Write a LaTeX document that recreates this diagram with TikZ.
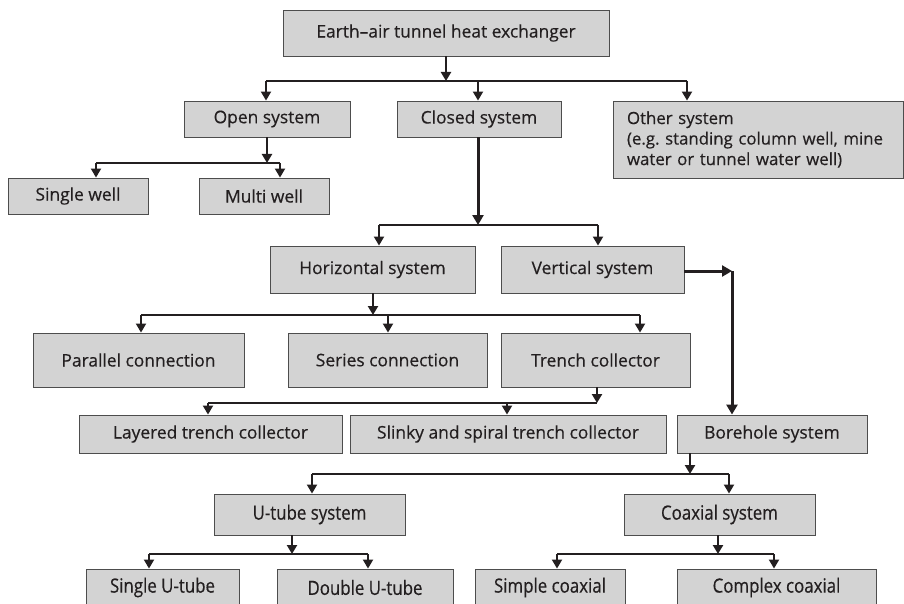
\documentclass[tikz,border=0pt]{standalone}
\usepackage{fontspec}
\setmainfont[FakeBold=0.4]{Open Sans}
\newfontfamily\narrowfont[FakeStretch=0.86,FakeBold=0.4]{Open Sans}
\usetikzlibrary{arrows.meta}
\definecolor{boxfill}{HTML}{D3D3D3}
\definecolor{boxline}{HTML}{4D4D4D}
\definecolor{ink}{HTML}{231F20}
\frenchspacing

\tikzset{
  box/.style={draw=boxline, fill=boxfill, line width=0.9pt, inner sep=0pt,
    text=ink, font=\fontsize{17.4}{20}\selectfont},
  narrowbox/.style={box, font=\narrowfont\fontsize{19.6}{22}\selectfont},
  stem/.style={draw=ink, line width=2.4pt, -{Triangle[width=10pt,length=9pt]}},
  heavy/.style={draw=ink, line width=3pt, -{Triangle[width=11pt,length=10pt]}},
  bar/.style={draw=ink, line width=1.2pt},
  drop/.style={draw=ink, line width=2pt, -{Triangle[width=10pt,length=9pt]}},
}

% \cbox[style]{name}{x1}{y1}{x2}{y2}{text}: a box given by its corners
\newcommand\cbox[7][box]{%
  \node[#1, minimum width={(#5-#3)*1pt}, minimum height={(#6-#4)*1pt}]
    (#2) at ({(#3+#5)/2},{(#4+#6)/2}) {#7};}

\begin{document}
\begin{tikzpicture}[x=1pt,y=-1pt]
\useasboundingbox (0,0) rectangle (904,604);
\clip (0,0) rectangle (904,604);
\fill[white] (0,0) rectangle (904,604);

% boxes
\cbox{top}{283}{10}{609}{56}{Earth–air tunnel heat exchanger}
\cbox{open}{184}{101}{350}{137}{Open system}
\cbox{closed}{397}{101}{561}{137}{Closed system}
\node[box, inner xsep=14pt, text width=262pt, minimum height=77pt, align=left,
  font=\fontsize{16.8}{20.5}\selectfont] (other) at (758,139.5)
  {Other system\\(e.g.\ standing column well, mine\\water or tunnel water well)};
\cbox{single}{8}{178}{148}{214}{Single well}
\cbox{multi}{199}{178}{329}{214}{Multi well}
\cbox{horiz}{270}{246}{475}{293}{Horizontal system}
\cbox{vert}{501}{246}{684}{293}{Vertical system}
\cbox{parallel}{33}{333}{244}{387}{Parallel connection}
\cbox{series}{288}{333}{487}{387}{Series connection}
\cbox{trench}{501}{333}{690}{387}{Trench collector}
\cbox{layered}{79}{415}{342}{453}{Layered trench collector}
\cbox{slinky}{350}{415}{666}{453}{Slinky and spiral trench collector}
\cbox{bore}{677}{415}{867}{453}{Borehole system}
\cbox[narrowbox]{utube}{214}{494}{405}{535}{U-tube system}
\cbox[narrowbox]{coax}{624}{494}{815}{535}{Coaxial system}
\cbox[narrowbox]{sutube}{86}{569}{239}{606}{Single U-tube}
\cbox[narrowbox]{dutube}{277}{569}{453}{606}{Double U-tube}
\cbox[narrowbox]{scoax}{475}{569}{625}{606}{Simple coaxial}
\cbox[narrowbox]{ccoax}{677}{569}{876}{606}{Complex coaxial}

% branching bars
\coordinate (b1L) at (266,81);   \coordinate (b1M) at (478,81);  \coordinate (b1R) at (687,81);
\coordinate (b2L) at (96,163);   \coordinate (b2R) at (280,163);
\coordinate (b3L) at (379,225);  \coordinate (b3R) at (598,225);
\coordinate (b4L) at (141,315);  \coordinate (b4M) at (388,315); \coordinate (b4R) at (640,315);
\coordinate (b5L) at (208,403);  \coordinate (b5M) at (507,403); \coordinate (b5R) at (597,403);
\coordinate (b6L) at (312,474);  \coordinate (b6R) at (729,474);
\coordinate (b7L) at (149,554);  \coordinate (b7R) at (368,554);
\coordinate (b8L) at (557,554);  \coordinate (b8R) at (774,554);
\coordinate (corner) at (732,271);

\draw[bar] (b1L) -- (b1R);
\draw[bar] (b2L) -- (b2R);
\draw[bar] (b3L) -- (b3R);
\draw[bar] (b4L) -- (b4R);
\draw[bar] (b5L) -- (b5R);
\draw[bar] (b6L) -- (b6R);
\draw[bar] (b7L) -- (b7R);
\draw[bar] (b8L) -- (b8R);

% stems from parent boxes down to the bars
\draw[stem] (top.south) -- (top.south |- b1L);
\draw[stem] (open.south) -- (open.south |- b2L);
\draw[heavy] (closed.south -| 478,0) -- (b3L -| 478,0);
\draw[stem] (horiz.south -| 373,0) -- (b4L -| 373,0);
\draw[stem] (b5R |- trench.south) -- (b5R);
\draw[stem] (bore.south -| 690,0) -- (b6L -| 690,0);
\draw[stem] (utube.south -| 292,0) -- (b7L -| 292,0);
\draw[stem] (coax.south -| 718,0) -- (b8L -| 718,0);

% drops from the bars into the child boxes
\draw[drop] (b1L) -- (b1L |- open.north);
\draw[drop] (b1M) -- (b1M |- closed.north);
\draw[drop] (b1R) -- (b1R |- other.north);
\draw[drop] (b2L) -- (b2L |- single.north);
\draw[drop] (b2R) -- (b2R |- multi.north);
\draw[drop] (b3L) -- (b3L |- horiz.north);
\draw[drop] (b3R) -- (b3R |- vert.north);
\draw[drop] (b4L) -- (b4L |- parallel.north);
\draw[drop] (b4M) -- (b4M |- series.north);
\draw[drop] (b4R) -- (b4R |- trench.north);
\draw[drop] (b5L) -- (b5L |- layered.north);
\draw[drop] (b5M) -- (b5M |- slinky.north);
\draw[drop] (b6L) -- (b6L |- utube.north);
\draw[drop] (b6R) -- (b6R |- coax.north);
\draw[drop] (b7L) -- (b7L |- sutube.north);
\draw[drop] (b7R) -- (b7R |- dutube.north);
\draw[drop] (b8L) -- (b8L |- scoax.north);
\draw[drop] (b8R) -- (b8R |- ccoax.north);

% vertical system to borehole system
\draw[heavy] (vert.east |- corner) -- (corner);
\draw[heavy] (corner) -- (corner |- bore.north);
\end{tikzpicture}
\end{document}
